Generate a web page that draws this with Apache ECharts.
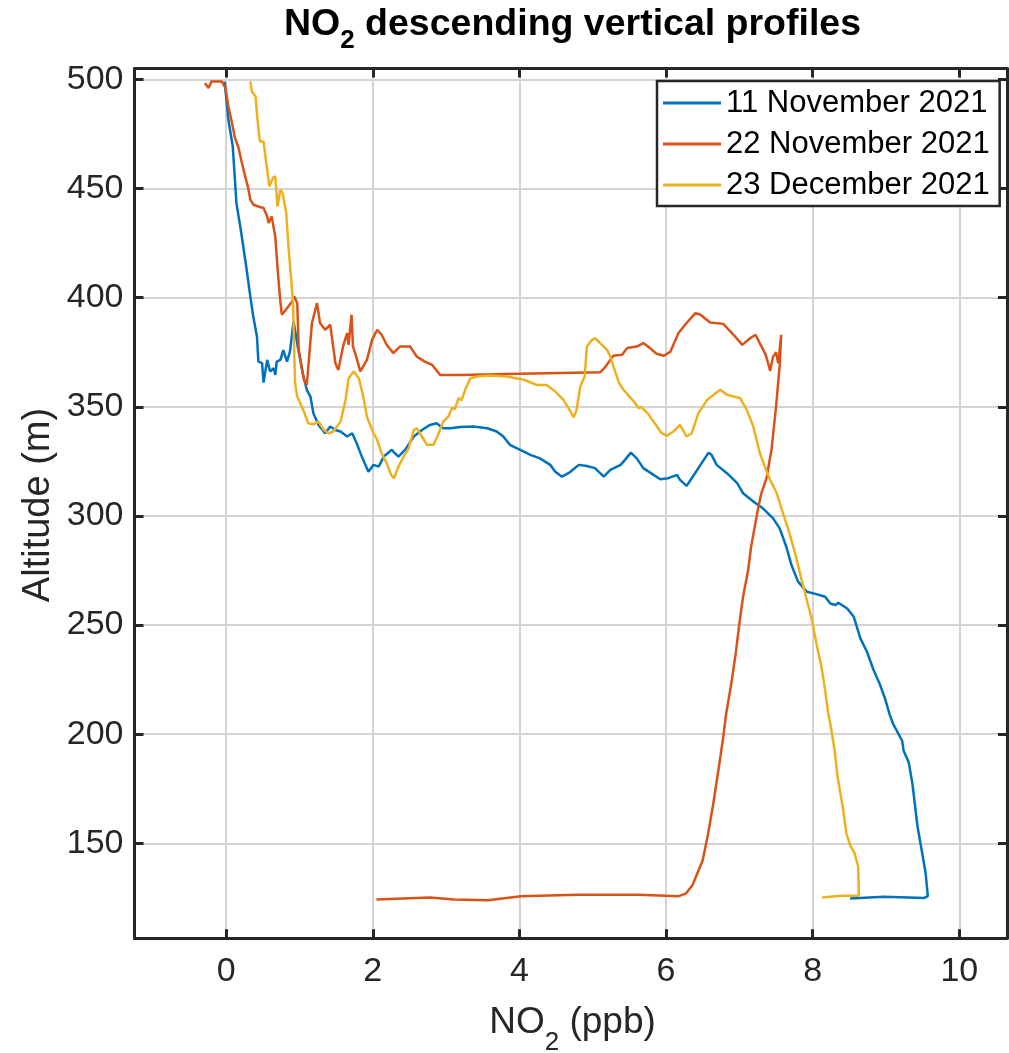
<!DOCTYPE html>
<html><head><meta charset="utf-8">
<script src="https://cdn.jsdelivr.net/npm/echarts@6/dist/echarts.min.js"></script>
<style>html,body{margin:0;padding:0;background:#fff}#c{width:1009px;height:1053px}</style>
</head><body><div id="c"></div>
<script>
// ---------------- DATA ----------------
const seriesNames = ['11 November 2021', '22 November 2021', '23 December 2021'];
const xTicks = [0, 2, 4, 6, 8, 10];
const yTicks = [150, 200, 250, 300, 350, 400, 450, 500];

const nov11X = [-0.02,0.03,0.09,0.14,0.2,0.28,0.33,0.37,0.42,0.44,0.49,0.51,0.56,0.6,0.65,0.67,0.69,0.74,0.78,0.83,0.87,0.92,0.98,1.05,1.1,1.15,1.19,1.26,1.35,1.42,1.49,1.56,1.65,1.72,1.78,1.85,1.94,2.01,2.08,2.15,2.26,2.3,2.35,2.44,2.56,2.67,2.78,2.87,2.96,3.06,3.19,3.37,3.56,3.69,3.78,3.87,4.01,4.15,4.28,4.42,4.49,4.58,4.67,4.81,4.92,5.03,5.15,5.24,5.38,5.44,5.52,5.6,5.69,5.83,5.92,6.03,6.15,6.19,6.28,6.35,6.47,6.58,6.62,6.69,6.83,6.97,7.05,7.19,7.32,7.46,7.55,7.64,7.71,7.8,7.92,8.05,8.17,8.24,8.31,8.35,8.47,8.56,8.65,8.74,8.83,8.92,8.99,9.05,9.1,9.22,9.24,9.31,9.36,9.43,9.47,9.54,9.57,9.52,8.97,8.51];
const nov11Y = [499,481.6,469.3,443.4,431,412.8,400.5,391.4,382.2,370.7,370,361.1,371.5,366.2,367.7,364.6,370.7,371.5,376,370.7,375.3,389.1,376.9,364.6,357.8,354.7,347,341.7,337.9,341,339.4,338.7,336.4,337.9,333.3,327.2,320.3,323.4,322.6,327.2,330.3,328.8,327.2,330.3,336.4,339.4,341.7,342.5,340.2,340.2,340.7,341,340.2,338.7,336.4,332.6,330.3,328,326.4,323.4,320.3,318,319.6,323.4,322.9,321.9,318,321.1,323.4,325.7,329,326.4,321.9,318.8,316.8,317.3,318.8,316.5,313.8,317.3,323.4,329,328,323.4,319.6,315,310.4,306.6,303.5,298.9,294.3,285.9,277.5,269.9,265.3,264.2,263,259.9,259.2,260.2,257.6,253.8,243.9,237.8,229.4,222.5,216,209,204.5,197,192.4,187.1,177.3,157.6,150,136.4,125.8,125,125.5,124.7];

const nov22X = [-0.29,-0.24,-0.2,-0.06,-0.01,0.03,0.08,0.12,0.17,0.21,0.26,0.3,0.33,0.37,0.44,0.51,0.56,0.58,0.62,0.67,0.71,0.74,0.76,0.83,0.9,0.93,0.97,0.99,1.06,1.1,1.11,1.17,1.24,1.28,1.35,1.42,1.49,1.53,1.6,1.65,1.67,1.71,1.73,1.76,1.83,1.92,1.99,2.06,2.12,2.19,2.28,2.37,2.51,2.6,2.71,2.81,2.92,3.19,4.0,5.1,5.17,5.28,5.4,5.47,5.6,5.69,5.78,5.87,5.97,6.06,6.17,6.28,6.4,6.47,6.6,6.78,6.92,7.04,7.13,7.22,7.29,7.36,7.42,7.46,7.5,7.53,7.57,7.55,7.5,7.44,7.37,7.3,7.26,7.21,7.16,7.12,7.05,7.0,6.95,6.89,6.82,6.77,6.71,6.64,6.57,6.5,6.43,6.36,6.27,6.17,5.62,4.8,4.02,3.57,3.11,2.78,2.05];
const nov22Y = [498.4,496.1,499.1,499.1,496.1,487.7,480,473.2,468.6,462.4,455.6,450.3,444.9,442.6,441.8,441.1,437.2,434.2,437.2,428,409.7,398,392.2,395.2,398.3,400.5,397.5,376,362.4,360,364,388.4,397.5,388.4,385.3,387.6,370,366.9,378.4,383.8,378.4,392.2,377.6,374.6,366.2,371.5,380.7,385.3,383,378.4,374.6,377.6,377.6,373,370.7,369.2,364.6,364.6,365.1,365.8,368.2,373.4,373.8,376.9,377.6,379.2,376.9,374.3,373.4,375.3,383.8,388.4,392.9,392.2,388.6,388,383,378.4,381,383,378.4,373.8,366.5,373,375,370,383,369.2,350,330.8,317.3,310.4,304.3,295.1,285.9,275.2,263,250.8,237,223.2,209.5,196.2,182.7,167.3,153.8,142.3,136.5,130.8,127,125.8,126.5,126.5,125.8,123.9,124.3,125.2,124.3];

const dec23X = [0.33,0.35,0.4,0.42,0.44,0.46,0.51,0.53,0.56,0.59,0.64,0.67,0.7,0.74,0.77,0.82,0.85,0.88,0.91,0.92,0.93,0.94,0.97,1.01,1.06,1.12,1.19,1.26,1.33,1.4,1.46,1.56,1.63,1.67,1.74,1.81,1.87,1.92,1.99,2.06,2.12,2.19,2.25,2.29,2.35,2.42,2.49,2.56,2.6,2.67,2.74,2.83,2.9,2.96,3.03,3.08,3.12,3.17,3.21,3.26,3.33,3.42,3.6,3.83,4.06,4.24,4.37,4.49,4.6,4.67,4.74,4.78,4.83,4.89,4.92,4.99,5.03,5.08,5.15,5.2,5.24,5.29,5.36,5.42,5.54,5.63,5.66,5.75,5.83,5.94,6.01,6.1,6.19,6.28,6.35,6.44,6.56,6.65,6.74,6.83,6.92,7.01,7.1,7.19,7.28,7.38,7.42,7.51,7.58,7.67,7.76,7.85,7.92,7.99,8.05,8.12,8.17,8.21,8.25,8.3,8.34,8.41,8.46,8.51,8.57,8.62,8.63,8.39,8.13];
const dec23Y = [499.1,494.5,492.3,484.6,477.8,471.6,471.6,466.3,458.6,451,455,455.6,441.8,449.5,448,438.8,423.5,411.3,399,388.4,373,360.9,354.7,351.7,347.8,342.5,342,343.2,339.4,337.9,338.7,343.2,353.2,363.1,366.2,363.1,354.7,345.5,339.4,334.8,328.7,324.2,318.8,317.3,322.6,327.2,331,339.4,340.2,336.4,332.6,332.6,337.9,343.2,345.5,349.4,349,354,353,357.8,363.1,363.9,364.3,363.9,362.4,360,360,357,353.2,349.4,345.2,348.6,359.3,363.9,377.6,380.7,381.4,379.9,377.6,375.8,373,367.7,360.8,357.8,353.2,349.4,350,347,343.2,337.9,336.7,338.7,341.7,336.4,337.9,347,353.2,355.5,357.8,355.5,354.7,354,348.6,341,328.7,319.6,316.5,310.4,302.8,293.6,282.9,270.6,261.5,252.3,241.6,230.9,220.2,210,203,192.4,180.3,166.7,154.5,149.2,145.5,139.4,126,126,125.2];

// ---------------- CHART ----------------
const FONT = "'Liberation Sans', Arial, Helvetica, sans-serif";
const colors = ['#0072BD', '#D95319', '#EDB120'];
const AX = '#262626';
const zip = (xs, ys) => xs.map((x, i) => [x, ys[i]]);
const seriesData = [zip(nov11X, nov11Y), zip(nov22X, nov22Y), zip(dec23X, dec23Y)];

const mctx = document.createElement('canvas').getContext('2d');
function tw(t, size, weight) { mctx.font = weight + ' ' + size + 'px ' + FONT; return mctx.measureText(t).width; }
function subText(parts, cx, weight, color) {
  const widths = parts.map(p => tw(p.t, p.s, weight));
  const total = widths.reduce((a, b) => a + b, 0);
  let x = cx - total / 2;
  return parts.map((p, i) => {
    const el = { type: 'text', x: x, y: p.cy, style: { text: p.t, fontSize: p.s, fontWeight: weight, fontFamily: FONT, fill: color, align: 'left', verticalAlign: 'middle' } };
    x += widths[i];
    return el;
  });
}

const titleEls = subText([{ t: 'NO', s: 37.5, cy: 24.5 }, { t: '2', s: 26, cy: 41 }, { t: ' descending vertical profiles', s: 37.5, cy: 24.5 }], 572.5, 'bold', '#000');
const xNameEls = subText([{ t: 'NO', s: 37, cy: 1023 }, { t: '2', s: 26, cy: 1043 }, { t: ' (ppb)', s: 37, cy: 1023 }], 572.5, 'normal', AX);
const yNameEl = { type: 'text', x: 39, y: 505, rotation: Math.PI / 2, style: { text: 'Altitude (m)', fontSize: 38, fontFamily: FONT, fill: AX, align: 'center', verticalAlign: 'middle' } };

function xAx(pos, main) {
  return {
    type: 'value', min: -1.25, max: 10.65, position: pos,
    axisLine: { show: true, onZero: false, lineStyle: { color: AX, width: 3 } },
    axisTick: { show: true, inside: true, length: 9, customValues: xTicks, lineStyle: { color: AX, width: 3 } },
    axisLabel: { show: main, customValues: xTicks, fontSize: 34, color: AX, margin: 16, fontFamily: FONT },
    splitLine: { show: main, lineStyle: { color: '#d4d4d4', width: 2 } }
  };
}
function yAx(pos, main) {
  return {
    type: 'value', min: 106.5, max: 505, position: pos,
    axisLine: { show: true, onZero: false, lineStyle: { color: AX, width: 3 } },
    axisTick: { show: true, inside: true, length: 9, customValues: yTicks, lineStyle: { color: AX, width: 3 } },
    axisLabel: { show: main, customValues: yTicks, fontSize: 34, color: AX, margin: 11, fontFamily: FONT },
    splitLine: { show: main, lineStyle: { color: '#d4d4d4', width: 2 } }
  };
}

const chart = echarts.init(document.getElementById('c'), null, { renderer: 'canvas' });
chart.setOption({
  animation: false,
  backgroundColor: '#fff',
  grid: { left: 134.5, right: 2, top: 68.5, bottom: 114.7, containLabel: false, outerBoundsMode: 'none' },
  xAxis: [xAx('bottom', true), xAx('top', false)],
  yAxis: [yAx('left', true), yAx('right', false)],
  legend: {
    data: seriesNames, orient: 'vertical', left: 657, top: 81,
    icon: 'rect', itemWidth: 58, itemHeight: 3, itemGap: 1,
    padding: [2, 10, 1, 6],
    borderColor: AX, borderWidth: 2.5, backgroundColor: '#fff', borderRadius: 0,
    selectedMode: false,
    textStyle: { fontSize: 31, lineHeight: 40, color: '#000', fontFamily: FONT }
  },
  graphic: { elements: [...titleEls, ...xNameEls, yNameEl] },
  series: seriesNames.map((n, i) => ({
    name: n, type: 'line', data: seriesData[i], xAxisIndex: 0, yAxisIndex: 0,
    showSymbol: false, symbol: 'none', clip: true,
    lineStyle: { width: 2.5, color: colors[i] }, itemStyle: { color: colors[i] },
    emphasis: { disabled: true }
  }))
});
</script></body></html>
